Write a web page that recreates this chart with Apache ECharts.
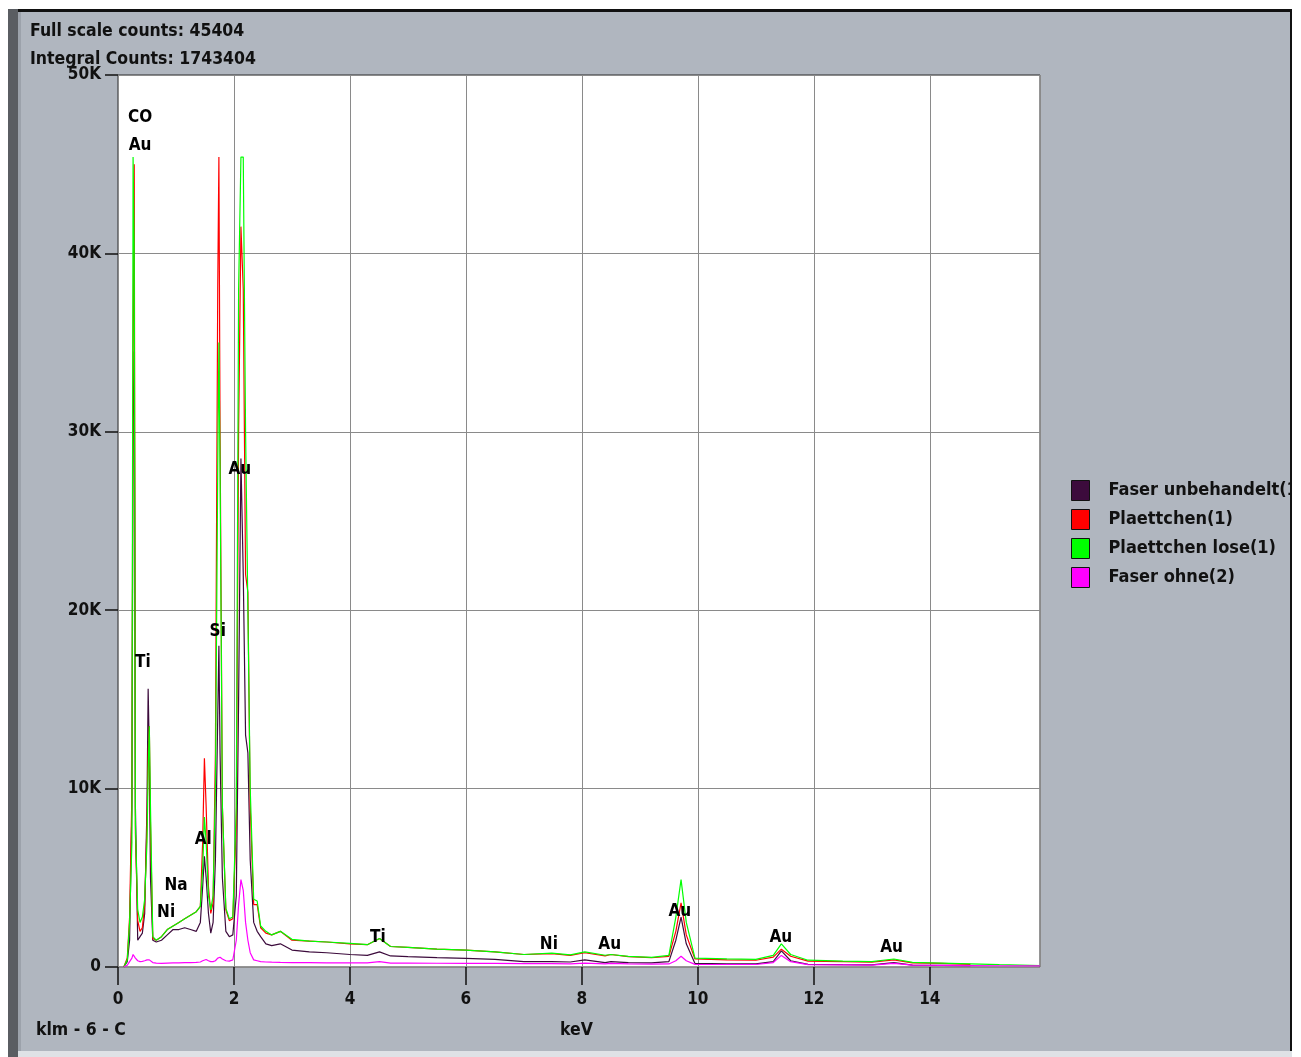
<!DOCTYPE html>
<html>
<head>
<meta charset="utf-8">
<script src="https://cdn.jsdelivr.net/npm/echarts@6/dist/echarts.min.js"></script>
<style>
html,body{margin:0;padding:0;background:#ffffff;width:1301px;height:1057px;overflow:hidden;}
#frame{position:absolute;left:8px;top:9px;width:1282px;height:1041px;background:#b0b6bf;border-top:3px solid #111;border-right:2px solid #111;overflow:hidden;}
#leftbar{position:absolute;left:8px;top:9px;width:10px;height:1048px;background:#5a5d62;}
#leftbar2{position:absolute;left:18px;top:12px;width:3px;height:1045px;background:#9ca2ab;}
#bottombar{position:absolute;left:18px;top:1051px;width:1274px;height:6px;background:#dfe2e6;}
#chart{position:absolute;left:0;top:0;width:1290px;height:1057px;}
</style>
</head>
<body>
<div id="frame"></div>
<div id="leftbar"></div>
<div id="leftbar2"></div>
<div id="bottombar"></div>
<div id="chart"></div>
<script>
// ---------- data (keV, counts) ----------
const energy = [0.10,0.16,0.20,0.24,0.26,0.28,0.30,0.34,0.38,0.42,0.46,0.50,0.52,0.54,0.56,0.60,0.66,0.75,0.85,0.95,
  1.05,1.15,1.25,1.35,1.42,1.46,1.49,1.52,1.56,1.60,1.64,1.68,1.72,1.74,1.76,1.80,1.86,1.92,1.98,2.04,
  2.08,2.12,2.16,2.20,2.24,2.28,2.34,2.40,2.46,2.55,2.65,2.80,3.00,3.30,3.60,4.00,4.30,4.51,4.70,5.00,
  5.50,6.00,6.50,7.00,7.48,7.80,8.05,8.40,8.50,8.80,9.20,9.50,9.62,9.71,9.80,9.95,10.50,11.00,11.30,11.44,
  11.60,11.90,12.50,13.00,13.38,13.70,14.20,14.70,15.20,15.90];

const faserUnbehandelt = [0,300,1500,9000,30700,34500,9000,1500,1700,1900,3000,9000,15600,12000,5000,1500,1400,1500,1800,2100,
  2100,2200,2100,2000,2500,4500,6200,5000,3000,1900,2500,6000,14000,18000,12000,5000,2000,1700,1800,4000,
  15000,28500,22000,13000,12000,6000,2500,2000,1700,1300,1200,1300,950,850,800,700,650,850,620,580,
  520,480,430,300,300,280,400,250,300,250,230,300,1500,2800,1300,200,180,170,300,900,
  350,150,130,120,250,100,90,80,null,null];

const plaettchen = [0,500,2800,9800,34500,45000,7500,2600,2000,2200,3500,8000,12000,13500,8000,1600,1500,1700,2100,2300,
  2500,2700,2900,3100,3400,7000,11700,9000,4500,3000,3600,12000,38000,45400,30000,9000,3200,2600,2700,8000,
  30000,41500,38000,22000,21000,9000,3500,3500,2200,1900,1800,2000,1500,1450,1400,1300,1250,1600,1150,1100,
  1000,950,850,700,750,650,800,620,700,580,520,600,2000,3600,1800,450,400,380,550,1000,
  600,330,300,270,400,230,200,150,null,null];

const plaettchenLose = [0,400,2500,7000,45400,40000,8000,3200,2500,2800,3800,7000,11000,13500,9000,1700,1500,1700,2100,2300,
  2500,2700,2900,3100,3400,5500,8400,7000,4000,3200,4000,10000,28000,35000,28000,9000,3300,2700,2800,9000,
  38000,45400,45400,30000,20000,10000,3800,3700,2300,2000,1800,2000,1550,1450,1400,1320,1250,1600,1150,1100,
  1000,950,850,700,780,680,850,660,700,600,540,650,2800,4900,2500,500,450,430,650,1300,
  700,380,330,300,450,260,220,180,130,80];

const faserOhne = [0,100,300,500,700,800,500,350,300,320,350,400,420,400,350,250,220,200,220,230,
  230,240,250,260,280,350,450,420,350,300,300,350,500,600,550,450,350,330,400,1500,
  3500,4900,4300,2500,1500,800,400,350,300,280,270,260,250,240,230,230,230,300,220,220,
  210,200,200,190,190,180,220,180,200,170,160,170,350,600,350,150,140,140,250,650,
  300,130,120,110,200,100,90,80,70,60];

const seriesNames = ['Faser unbehandelt(1)','Plaettchen(1)','Plaettchen lose(1)','Faser ohne(2)'];
const seriesColors = ['#3c0b3c','#ff0000','#00ff00','#ff00ff'];

const yTicks = [0,10000,20000,30000,40000,50000];
const yTickLabels = ['0','10K','20K','30K','40K','50K'];

// element annotations: [keV, counts, text]
const peakLabels = [
  [0.38,47640,'CO'],[0.38,46070,'Au'],[0.43,17040,'Ti'],[1.72,18780,'Si'],[2.10,27860,'Au'],
  [1.47,7120,'Al'],[1.00,4540,'Na'],[0.83,3030,'Ni'],[4.48,1630,'Ti'],[7.43,1230,'Ni'],
  [8.48,1230,'Au'],[9.69,3080,'Au'],[11.43,1630,'Au'],[13.34,1070,'Au']
];

const headerLines = ['Full scale counts: 45404','Integral Counts: 1743404'];
const sampleName = 'klm - 6 - C';
const xAxisName = 'keV';

// ---------- chart ----------
const FONT = '"DejaVu Sans Condensed", "DejaVu Sans", sans-serif';
const pairs = arr => energy.map((e,i)=>[e,arr[i]]).filter(p=>p[1]!==null);
const allSeries = [faserUnbehandelt, plaettchen, plaettchenLose, faserOhne];

const chart = echarts.init(document.getElementById('chart'), null, {renderer:'canvas'});
const series = allSeries.map((arr,i)=>({
  name: seriesNames[i], type:'line', data: pairs(arr), showSymbol:false, symbol:'none',
  lineStyle:{color:seriesColors[i], width:1.2}, itemStyle:{color:seriesColors[i]},
  animation:false, z:2+i
}));
series.push({
  type:'scatter', name:'labels', data: peakLabels.map(p=>({value:[p[0],p[1]], name:p[2]})),
  symbolSize:1, itemStyle:{color:'rgba(0,0,0,0)', opacity:1}, z:10, animation:false, silent:true,
  label:{show:true, position:'inside', formatter:p=>p.name, color:'#000', opacity:1, textBorderWidth:0,
    fontFamily:FONT, fontWeight:'bold', fontSize:17}
});

chart.setOption({
  animation:false,
  backgroundColor:'transparent',
  grid:{left:118, top:75, width:922, height:892, show:true, backgroundColor:'#ffffff', borderColor:'#2a2a2a', borderWidth:1},
  legend:{
    data: seriesNames, orient:'vertical', left:1071, top:480, padding:0, itemWidth:18, itemHeight:20, itemGap:8,
    icon:'rect', itemStyle:{borderColor:'#111', borderWidth:1},
    textStyle:{fontFamily:FONT, fontWeight:'bold', fontSize:18, lineHeight:20, color:'#111', padding:[0,0,0,14]},
    selectedMode:false
  },
  xAxis:{
    type:'value', min:0, max:15.9, interval:2,
    axisLine:{show:false}, axisTick:{show:true, length:18, lineStyle:{color:'#111', width:1.5}},
    axisLabel:{color:'#111', fontFamily:FONT, fontWeight:'bold', fontSize:17, margin:24, showMaxLabel:false},
    splitLine:{show:true, lineStyle:{color:'#8a8a8a', width:1}}
  },
  yAxis:{
    type:'value', min:0, max:50000, interval:10000,
    axisLine:{show:false}, axisTick:{show:true, length:13, lineStyle:{color:'#111', width:1.5}},
    axisLabel:{color:'#111', fontFamily:FONT, fontWeight:'bold', fontSize:17, margin:17,
      formatter: v => yTickLabels[yTicks.indexOf(v)] ?? ''},
    splitLine:{show:true, lineStyle:{color:'#8a8a8a', width:1}}
  },
  graphic:[
    {type:'text', left:30, top:22, style:{text:headerLines[0], fill:'#111', font:'bold 17.5px '+FONT}},
    {type:'text', left:30, top:50, style:{text:headerLines[1], fill:'#111', font:'bold 17.5px '+FONT}},
    {type:'text', left:36, top:1021, style:{text:sampleName, fill:'#111', font:'bold 17.5px '+FONT}},
    {type:'text', left:560, top:1021, style:{text:xAxisName, fill:'#111', font:'bold 17.5px '+FONT}}
  ],
  series: series
});
</script>
</body>
</html>
